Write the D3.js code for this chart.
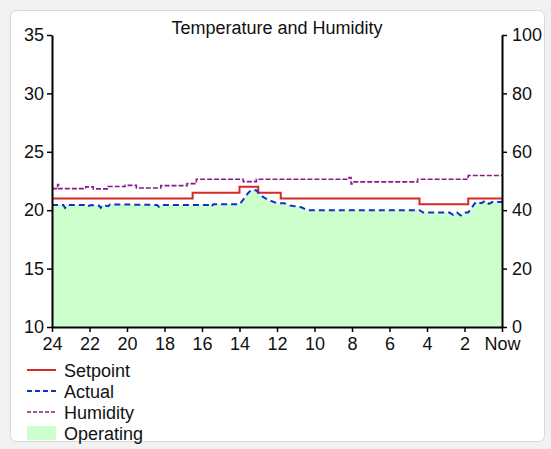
<!DOCTYPE html>
<html>
<head>
<meta charset="utf-8">
<script src="https://cdn.jsdelivr.net/npm/d3@7"></script>
<style>
  html, body { margin: 0; padding: 0; background: #f1f1f1; }
  svg { display: block; font-family: "Liberation Sans", Arial, sans-serif; }
  .axis path, .axis line { stroke: #000; }
  .axis path { stroke-width: 2; }
  .axis line { stroke-width: 1.5; }
  .axis text { font-size: 18px; fill: #111; }
</style>
</head>
<body>
<svg id="chart" width="551" height="449"></svg>
<script>
// hours ago -> value
const hourTicks = [24, 22, 20, 18, 16, 14, 12, 10, 8, 6, 4, 2, 0];
const tempTicks = [10, 15, 20, 25, 30, 35];
const humTicks = [0, 20, 40, 60, 80, 100];

const setpoint = [
  [24, 21], [16.5, 21.5], [14, 22], [13, 21.5], [11.8, 21],
  [4.4, 20.5], [1.8, 21], [0, 21]
];

const actual = [
  [24, 20.45], [23.4, 20.45], [23.3, 20.2], [23.2, 20.45], [22.3, 20.45],
  [22.2, 20.3], [21.9, 20.45], [21.5, 20.4], [21.4, 20.2], [21.3, 20.45],
  [21.0, 20.35], [20.9, 20.5], [18.4, 20.45], [18.3, 20.3], [18.2, 20.45],
  [15.6, 20.45], [15.5, 20.3], [15.4, 20.5], [14.0, 20.5], [13.8, 20.9],
  [13.6, 21.35], [13.4, 21.7], [13.1, 21.7], [12.9, 21.3], [12.5, 20.9],
  [12.0, 20.6], [11.6, 20.6], [11.3, 20.4], [10.7, 20.25], [10.4, 20.0],
  [4.4, 20.0], [4.2, 19.8], [2.8, 19.8], [2.6, 19.6], [2.4, 19.8],
  [2.2, 19.55], [2.0, 19.8], [1.8, 19.8], [1.6, 20.25], [1.4, 20.7],
  [1.1, 20.6], [0.9, 20.8], [0.7, 20.55], [0.5, 20.7], [0, 20.7]
];

const humidity = [
  [24, 47.4], [23.7, 48.8], [23.65, 47.4], [22.2, 48.0], [21.8, 47.3],
  [21.0, 48.1], [20.1, 48.5], [19.5, 47.6], [18.2, 48.4], [16.8, 49.1],
  [16.3, 50.6], [13.8, 49.8], [13.1, 50.6], [8.15, 51.2], [8.05, 49.0],
  [8.0, 49.7], [4.5, 50.6], [1.8, 51.9], [0, 51.9]
];

const svg = d3.select("#chart");
const margin = { left: 52, right: 49, top: 35, bottom: 122 };
const W = 551, H = 449;
const plotW = W - margin.left - margin.right;
const plotH = H - margin.top - margin.bottom;

// card
svg.append("rect")
  .attr("x", 10.5).attr("y", 10.5)
  .attr("width", 534).attr("height", 431)
  .attr("rx", 6)
  .attr("fill", "#fff")
  .attr("stroke", "#dadada");

const x = d3.scaleLinear().domain([24, 0]).range([0, plotW]);
const yT = d3.scaleLinear().domain([10, 35]).range([plotH, 0]);
const yH = d3.scaleLinear().domain([0, 100]).range([plotH, 0]);

const g = svg.append("g").attr("transform", `translate(${margin.left},${margin.top})`);

// operating area under actual temperature
g.append("path")
  .datum(actual)
  .attr("fill", "#ccffcc")
  .attr("d", d3.area().x(d => x(d[0])).y0(plotH).y1(d => yT(d[1])));

g.append("path")
  .datum(setpoint)
  .attr("fill", "none")
  .attr("stroke", "#d42a2a")
  .attr("stroke-width", 2)
  .attr("d", d3.line().curve(d3.curveStepAfter).x(d => x(d[0])).y(d => yT(d[1])));

g.append("path")
  .datum(actual)
  .attr("fill", "none")
  .attr("stroke", "#1030c8")
  .attr("stroke-width", 2)
  .attr("stroke-dasharray", "6,4")
  .attr("d", d3.line().x(d => x(d[0])).y(d => yT(d[1])));

g.append("path")
  .datum(humidity)
  .attr("fill", "none")
  .attr("stroke", "#8a1a8a")
  .attr("stroke-width", 1.6)
  .attr("stroke-dasharray", "5,2")
  .attr("d", d3.line().curve(d3.curveStepAfter).x(d => x(d[0])).y(d => yH(d[1])));

// axes
g.append("g").attr("class", "axis")
  .attr("transform", `translate(0,${plotH})`)
  .call(d3.axisBottom(x).tickValues(hourTicks).tickSize(5).tickSizeOuter(0).tickPadding(5)
    .tickFormat(d => d === 0 ? "Now" : d));

g.append("g").attr("class", "axis")
  .call(d3.axisLeft(yT).tickValues(tempTicks).tickSize(5).tickSizeOuter(0).tickPadding(3));

g.append("g").attr("class", "axis")
  .attr("transform", `translate(${plotW},0)`)
  .call(d3.axisRight(yH).tickValues(humTicks).tickSize(5).tickSizeOuter(0).tickPadding(5));

// title
svg.append("text")
  .attr("x", margin.left + plotW / 2).attr("y", 34)
  .attr("text-anchor", "middle")
  .attr("font-size", 18)
  .attr("fill", "#111")
  .text("Temperature and Humidity");

// legend
const legend = [
  { name: "Setpoint", type: "line", color: "#d42a2a", dash: null, w: 2 },
  { name: "Actual", type: "line", color: "#1030c8", dash: "5,3", w: 2 },
  { name: "Humidity", type: "line", color: "#8a1a8a", dash: "4,2", w: 1.6 },
  { name: "Operating", type: "box", color: "#ccffcc" }
];

const lg = svg.append("g").attr("transform", "translate(27,370)");
const item = lg.selectAll("g").data(legend).join("g")
  .attr("transform", (d, i) => `translate(0,${i * 21})`);

item.filter(d => d.type === "line").append("line")
  .attr("x1", 0).attr("x2", 29).attr("y1", 0).attr("y2", 0)
  .attr("stroke", d => d.color)
  .attr("stroke-width", d => d.w)
  .attr("stroke-dasharray", d => d.dash);

item.filter(d => d.type === "box").append("rect")
  .attr("x", 0).attr("y", -7).attr("width", 29).attr("height", 14)
  .attr("fill", d => d.color);

item.append("text")
  .attr("x", 37).attr("y", 6.5)
  .attr("font-size", 18)
  .attr("fill", "#111")
  .text(d => d.name);
</script>
</body>
</html>
